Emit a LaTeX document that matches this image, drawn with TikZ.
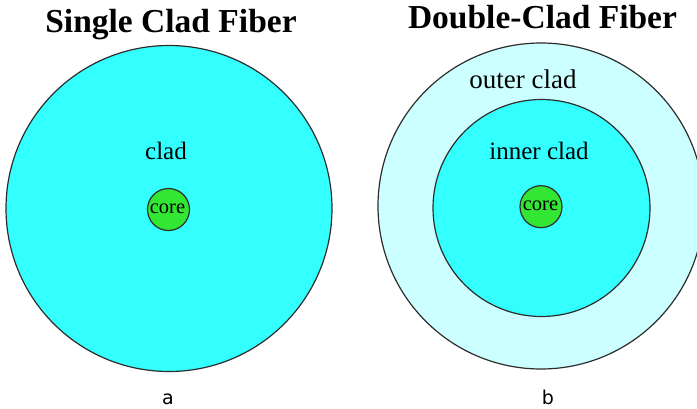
\documentclass[tikz,border=0pt]{standalone}
\usepackage{fontspec}
\setmainfont{Liberation Serif}
\newfontfamily\labelfont{DejaVu Sans}
\definecolor{cladcyan}{RGB}{51,255,255}
\definecolor{outercyan}{RGB}{204,255,255}
\definecolor{coregreen}{RGB}{51,230,51}
\definecolor{rimgray}{RGB}{45,45,45}
\begin{document}
\begin{tikzpicture}[x=1pt,y=-1pt,
  layer/.style={draw=rimgray,line width=1.2pt},
  title/.style={font=\fontsize{33.5}{38}\selectfont\bfseries,anchor=base,inner sep=0pt},
  tag/.style={font=\fontsize{25}{29}\selectfont,anchor=base,inner sep=0pt},
  coretag/.style={font=\fontsize{20.5}{24}\selectfont,anchor=base,inner sep=0pt},
  sub/.style={font=\labelfont\fontsize{19}{23}\selectfont,anchor=base,inner sep=0pt}]
\useasboundingbox (0,0) rectangle (697,408);
\clip (0,0) rectangle (697,408);
% single clad fiber
\node[title] (t1) at (171,32) {Single Clad Fiber};
\draw[layer,fill=cladcyan] (169,208.5) circle[radius=163];
\node[tag] (clad1) at (166,159.5) {clad};
\draw[layer,fill=coregreen] (168.5,209.5) circle[radius=21];
\node[coretag] (core1) at (167.5,213) {core};
\node[sub] (la) at (168,404) {a};
% double clad fiber
\node[title] (t2) at (542.5,28) {Double-Clad Fiber};
\draw[layer,fill=outercyan] (541,206) circle[radius=163];
\node[font=\fontsize{27}{31}\selectfont,anchor=base,inner sep=0pt] (outer) at (523,88.5) {outer clad};
\draw[layer,fill=cladcyan] (541.5,208) circle[radius=108.5];
\node[tag] (inner) at (539,159.5) {inner clad};
\draw[layer,fill=coregreen] (541,206.7) circle[radius=21];
\node[coretag] (core2) at (540.5,210.5) {core};
\node[sub] (lb) at (548,404) {b};
\end{tikzpicture}
\end{document}
